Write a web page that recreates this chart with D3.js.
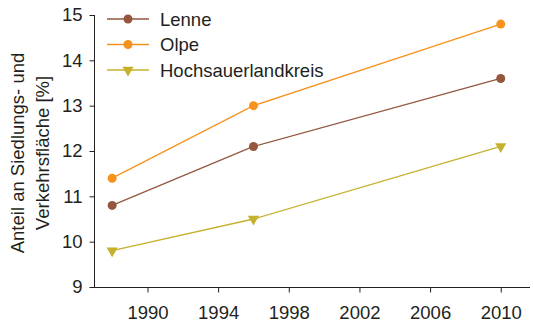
<!DOCTYPE html>
<html><head><meta charset="utf-8">
<script src="https://cdn.jsdelivr.net/npm/d3@7"></script>
<style>body{margin:0;background:#fff}svg{display:block;font-family:"Liberation Sans",Arial,sans-serif}</style>
</head><body>
<svg id="c" width="533" height="327"></svg>
<script>
const years = [1988, 1996, 2010];
const lenne = [10.8, 12.1, 13.6];
const olpe = [11.4, 13.0, 14.8];
const hochsauerland = [9.8, 10.5, 12.1];
const seriesNames = ["Lenne", "Olpe", "Hochsauerlandkreis"];
const xTicks = [1990, 1994, 1998, 2002, 2006, 2010];
const yTicks = [9, 10, 11, 12, 13, 14, 15];

const series = [
  {name: seriesNames[0], values: lenne, color: "#93573f", shape: "circle"},
  {name: seriesNames[1], values: olpe, color: "#f7921e", shape: "circle"},
  {name: seriesNames[2], values: hochsauerland, color: "#c6b12e", shape: "tri"}
];

const svg = d3.select("#c");
const x = d3.scaleLinear().domain([1987, 2011.6]).range([94.5, 529]);
const y = d3.scaleLinear().domain([9, 15]).range([287, 15]);
const ink = "#231f20";
const fs = 18.5;

// y axis
const ya = svg.append("g").attr("transform", "translate(94.5,0)")
  .call(d3.axisLeft(y).tickValues(yTicks).tickFormat(d3.format("d")).tickSize(5).tickPadding(7).tickSizeOuter(0));
ya.select(".domain").attr("stroke", ink).attr("d", "M0,15V287.5");
ya.selectAll("line").attr("stroke", ink);
ya.selectAll("text").attr("font-size", fs).attr("fill", ink);

// x axis
const xa = svg.append("g").attr("transform", "translate(0,287.5)")
  .call(d3.axisBottom(x).tickValues(xTicks).tickFormat(d3.format("d")).tickSize(5).tickPadding(13).tickSizeOuter(0));
xa.select(".domain").attr("stroke", ink).attr("d", "M91.5,0H530");
xa.selectAll("line").attr("stroke", ink);
xa.selectAll("text").attr("font-size", fs).attr("fill", ink);

// axis title
const yt = svg.append("text").attr("transform", "translate(24,153) rotate(-90)")
  .attr("text-anchor", "middle").attr("font-size", fs).attr("fill", ink);
yt.append("tspan").attr("x", 0).attr("dy", 0).text("Anteil an Siedlungs- und");
yt.append("tspan").attr("x", 0).attr("dy", 25).text("Verkehrsfläche [%]");

const line = d3.line().x(d => x(d[0])).y(d => y(d[1]));
const tri = d3.symbol().type(d3.symbolTriangle).size(55);

function marker(g, s, cx, cy) {
  if (s.shape === "circle") {
    g.append("circle").attr("cx", cx).attr("cy", cy).attr("r", 4.5).attr("fill", s.color);
  } else {
    g.append("path").attr("d", tri()).attr("fill", s.color)
      .attr("transform", `translate(${cx},${cy}) rotate(180)`);
  }
}

series.forEach(s => {
  const pts = years.map((yr, i) => [yr, s.values[i]]);
  const g = svg.append("g");
  g.append("path").attr("d", line(pts)).attr("fill", "none").attr("stroke", s.color).attr("stroke-width", 1.3);
  pts.forEach(p => marker(g, s, x(p[0]), y(p[1])));
});

// legend
series.forEach((s, i) => {
  const ly = 19 + i * 25.5;
  const g = svg.append("g");
  g.append("line").attr("x1", 107).attr("x2", 149).attr("y1", ly).attr("y2", ly)
    .attr("stroke", s.color).attr("stroke-width", 1.3);
  marker(g, s, 128, ly);
  g.append("text").attr("x", 160).attr("y", ly).attr("dy", "0.36em")
    .attr("font-size", fs).attr("fill", ink).text(s.name);
});
</script>
</body></html>
